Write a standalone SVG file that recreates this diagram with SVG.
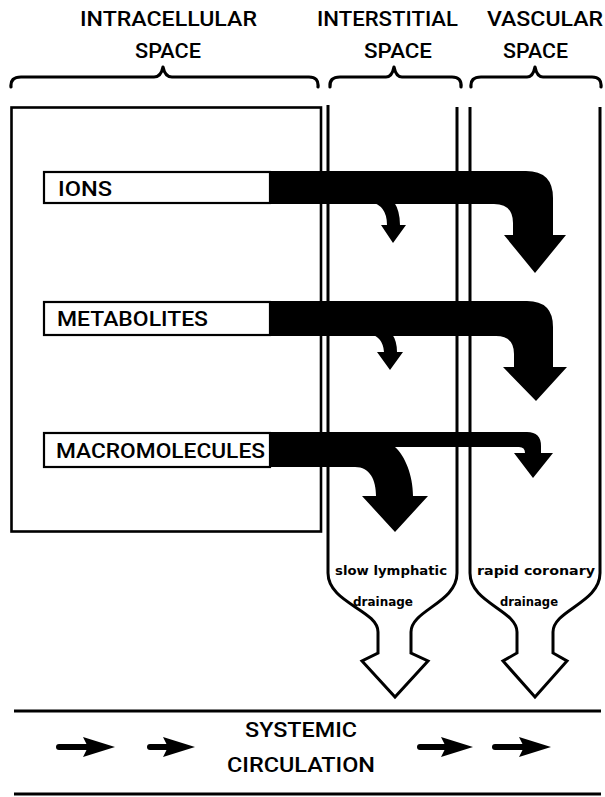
<svg xmlns="http://www.w3.org/2000/svg" width="605" height="797" viewBox="0 0 605 797">
<style>
.ln{fill:none;stroke:#000;stroke-width:3;stroke-linejoin:miter}
.br{fill:none;stroke:#000;stroke-width:3.2;stroke-linecap:round;stroke-linejoin:round}
.bx{fill:#fff;stroke:#000;stroke-width:2.2}
.blk{fill:#000;stroke:none}
.t{font-family:Roboto,"Liberation Sans",Arial,sans-serif;font-weight:500;fill:#000}
.h{font-size:20px}
.lb{font-size:21px}
.s{font-family:"DejaVu Sans","Liberation Sans",sans-serif;font-weight:bold;font-size:12.5px;fill:#000}
.sh{stroke:#000;stroke-width:6;stroke-linecap:round}
</style>
<defs>
<path id="hd" d="M-32,-10 L0,0 L-32,10 L-27,0 Z"/>
</defs>
<rect width="605" height="797" fill="#fff"/>

<g id="headers">
<text class="t h" x="80" y="26" textLength="177" lengthAdjust="spacingAndGlyphs">INTRACELLULAR</text>
<text class="t h" x="135" y="58" textLength="66" lengthAdjust="spacingAndGlyphs">SPACE</text>
<text class="t h" x="317" y="26" textLength="141" lengthAdjust="spacingAndGlyphs">INTERSTITIAL</text>
<text class="t h" x="364" y="58" textLength="68" lengthAdjust="spacingAndGlyphs">SPACE</text>
<text class="t h" x="487" y="26" textLength="116" lengthAdjust="spacingAndGlyphs">VASCULAR</text>
<text class="t h" x="503" y="58" textLength="65" lengthAdjust="spacingAndGlyphs">SPACE</text>
<path class="br" d="M11,87 Q10,77 21,77 L154,77 Q161,77 163,67 Q165,77 172,77 L309,77 Q319,77 318,87"/>
<path class="br" d="M330,87 Q329,77 340,77 L386,77 Q392,77 394,67 Q396,77 402,77 L452,77 Q462,77 461,87"/>
<path class="br" d="M471,87 Q470,77 481,77 L527,77 Q533,77 535,67 Q537,77 543,77 L592,77 Q602,77 601,87"/>
</g>

<g id="intracellular">
<rect x="11.5" y="107.5" width="309.5" height="424" style="fill:none;stroke:#000;stroke-width:2.6"/>
</g>

<g id="interstitial">
<path class="ln" d="M328,105 L328,573 C328,603 378,610 378,632 L378,653 L362,661 L395,697 L428,661 L411,653 L411,632 C411,610 457,603 457,573 L457,107"/>
<text class="s" x="335" y="575" textLength="112" lengthAdjust="spacingAndGlyphs">slow  lymphatic</text>
<text class="s" x="353" y="606" textLength="60" lengthAdjust="spacingAndGlyphs">drainage</text>
</g>

<g id="vascular">
<path class="ln" d="M470,107 L470,573 C470,603 517,610 517,632 L517,653 L503,661 L535,697 L567,661 L553,653 L553,632 C553,610 600,603 600,573 L600,107"/>
<text class="s" x="477" y="575" textLength="118" lengthAdjust="spacingAndGlyphs">rapid  coronary</text>
<text class="s" x="500" y="606" textLength="58" lengthAdjust="spacingAndGlyphs">drainage</text>
</g>

<g id="connectors">
<path class="blk" d="M268,171 L526,171 Q553,171 553,198 L553,235 L566,235 L535,273 L504,235 L513,235 L513,223 Q513,204 494,204 L268,204 Z"/>
<path class="blk" d="M370,202 Q387,205 387,225 L381,225 L393,243 L406,225 L400,225 Q400,211 394,202 Z"/>
<path class="blk" d="M268,301 L527,301 Q553,301 553,327 L553,367 L567,367 L536,401 L503,367 L514,367 L514,354 Q514,336 496,336 L268,336 Z"/>
<path class="blk" d="M370,334 Q383,337 384,352 L377,352 L390,370 L403,352 L397,352 Q397,341 392,334 Z"/>
<path class="blk" d="M268,432 L527,432 Q541,432 541,446 L541,453 L553,453 L533,478 L514,453 L525,453 Q525,447 519,447 L395,447 C405,456 413,475 413,496 L428,496 L395,532 L362,496 L376,496 C376,480 370,467 355,467 L268,467 Z"/>
</g>

<g id="ions">
<rect class="bx" x="44" y="172" width="226" height="31"/>
<text class="t lb" x="58" y="196" textLength="54" lengthAdjust="spacingAndGlyphs">IONS</text>
</g>
<g id="metabolites">
<rect class="bx" x="44" y="302" width="226" height="33"/>
<text class="t lb" x="57" y="326" textLength="151" lengthAdjust="spacingAndGlyphs">METABOLITES</text>
</g>
<g id="macromolecules">
<rect class="bx" x="44" y="433" width="226" height="34"/>
<text class="t lb" x="56" y="458" textLength="209" lengthAdjust="spacingAndGlyphs">MACROMOLECULES</text>
</g>

<g id="systemic">
<line class="ln" x1="14" y1="711" x2="601" y2="711"/>
<line class="ln" x1="14" y1="794" x2="601" y2="794"/>
<text class="t lb" x="245" y="737" textLength="112" lengthAdjust="spacingAndGlyphs">SYSTEMIC</text>
<text class="t lb" x="227" y="772" textLength="148" lengthAdjust="spacingAndGlyphs">CIRCULATION</text>
<line class="sh" x1="59" y1="747" x2="90" y2="747"/>
<use href="#hd" transform="translate(115,747)"/>
<line class="sh" x1="150" y1="747" x2="170" y2="747"/>
<use href="#hd" transform="translate(195,747)"/>
<line class="sh" x1="420" y1="747" x2="448" y2="747"/>
<use href="#hd" transform="translate(473,747)"/>
<line class="sh" x1="495" y1="747" x2="526" y2="747"/>
<use href="#hd" transform="translate(551,747)"/>
</g>
</svg>
